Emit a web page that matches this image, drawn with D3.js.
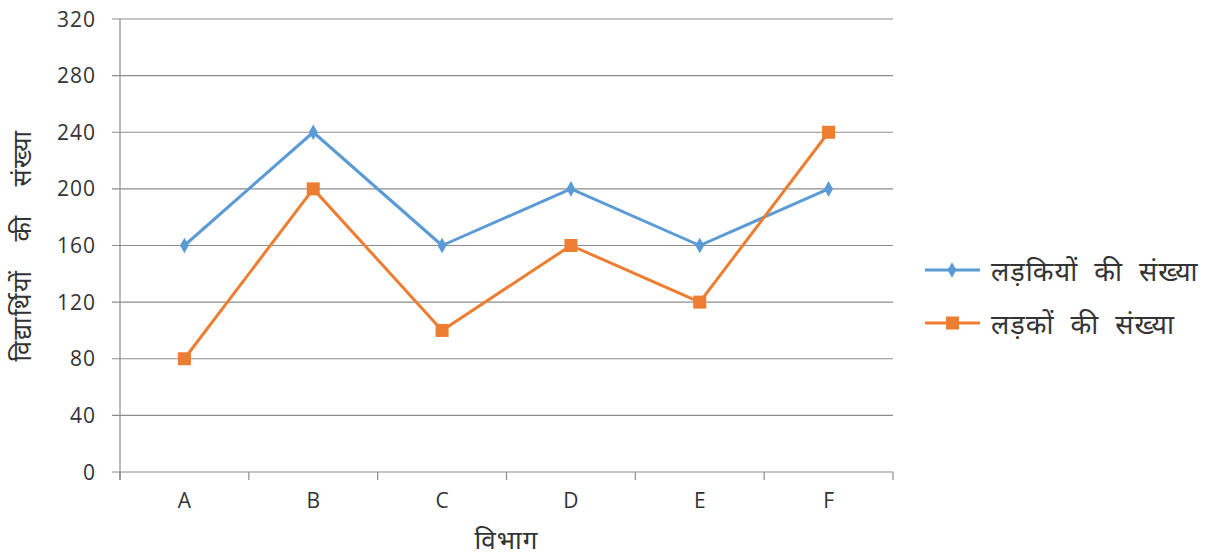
<!DOCTYPE html>
<html>
<head>
<meta charset="utf-8">
<script src="https://cdn.jsdelivr.net/npm/d3@7"></script>
<style>
  body { margin: 0; background: #fff; }
  text { font-family: "Open Sans", "Noto Sans", "DejaVu Sans", sans-serif; fill: #333; }
</style>
</head>
<body>
<svg id="chart"></svg>
<script>
const categories = ["A", "B", "C", "D", "E", "F"];
const girls = [160, 240, 160, 200, 160, 200];
const boys = [80, 200, 100, 160, 120, 240];
const yTicks = [0, 40, 80, 120, 160, 200, 240, 280, 320];
const seriesNames = ["लड़कियों की संख्या", "लड़कों की संख्या"];
const colors = ["#5B9BD5", "#ED7D31"];

const width = 1212, height = 559;
const margin = { left: 120, right: 319, top: 19, bottom: 87 };

const svg = d3.select("#chart").attr("width", width).attr("height", height);

const x = d3.scaleBand().domain(categories).range([margin.left, width - margin.right]);
const y = d3.scaleLinear().domain([0, 320]).range([height - margin.bottom, margin.top]);

// Gridlines
svg.append("g")
   .selectAll("line")
   .data(yTicks)
   .enter()
   .append("line")
   .attr("x1", margin.left - 8)
   .attr("x2", width - margin.right)
   .attr("y1", (d) => y(d))
   .attr("y2", (d) => y(d))
   .attr("stroke", "#8c8c8c")
   .attr("stroke-width", 1.2);

// Y axis line
svg.append("line")
   .attr("x1", margin.left).attr("x2", margin.left)
   .attr("y1", y(320)).attr("y2", y(0) + 8)
   .attr("stroke", "#8c8c8c")
   .attr("stroke-width", 1.2);

// Y tick labels
svg.append("g")
   .selectAll("text")
   .data(yTicks)
   .enter()
   .append("text")
   .attr("x", margin.left - 24)
   .attr("y", (d) => y(d))
   .attr("dy", "0.36em")
   .attr("text-anchor", "end")
   .style("font-size", "21px")
   .style("letter-spacing", "1px")
   .text((d) => d);

// X axis ticks at band boundaries
const bounds = categories.map((c) => x(c)).concat([x(categories[5]) + x.bandwidth()]);
svg.append("g")
   .selectAll("line")
   .data(bounds)
   .enter()
   .append("line")
   .attr("x1", (d) => d).attr("x2", (d) => d)
   .attr("y1", y(0)).attr("y2", y(0) + 8)
   .attr("stroke", "#8c8c8c")
   .attr("stroke-width", 1.2);

// X tick labels
svg.append("g")
   .selectAll("text")
   .data(categories)
   .enter()
   .append("text")
   .attr("x", (d) => x(d) + x.bandwidth() / 2)
   .attr("y", y(0) + 36)
   .attr("text-anchor", "middle")
   .style("font-size", "21px")
   .text((d) => d);

// Axis titles
svg.append("text")
   .attr("x", (margin.left + width - margin.right) / 2)
   .attr("y", 549)
   .attr("text-anchor", "middle")
   .style("font-size", "26px")
   .style("letter-spacing", "1px")
   .text("विभाग");

svg.append("text")
   .attr("transform", `translate(31,${(y(0) + y(320)) / 2}) rotate(-90)`)
   .attr("text-anchor", "middle")
   .style("font-size", "25px")
   .style("word-spacing", "20px")
   .style("letter-spacing", "1.5px")
   .text("विद्यार्थियों की संख्या");

// Lines
const line = d3.line()
   .x((d, i) => x(categories[i]) + x.bandwidth() / 2)
   .y((d) => y(d));

[girls, boys].forEach((vals, s) => {
   svg.append("path")
      .datum(vals)
      .attr("fill", "none")
      .attr("stroke", colors[s])
      .attr("stroke-width", 3)
      .attr("stroke-linejoin", "round")
      .attr("d", line);
});

// Markers
const diamond = d3.symbol().type(d3.symbolDiamond).size(70);
svg.append("g")
   .selectAll("path")
   .data(girls)
   .enter()
   .append("path")
   .attr("d", diamond)
   .attr("transform", (d, i) => `translate(${x(categories[i]) + x.bandwidth() / 2},${y(d)})`)
   .attr("fill", colors[0]);

svg.append("g")
   .selectAll("rect")
   .data(boys)
   .enter()
   .append("rect")
   .attr("x", (d, i) => x(categories[i]) + x.bandwidth() / 2 - 6.5)
   .attr("y", (d) => y(d) - 6.5)
   .attr("width", 13)
   .attr("height", 13)
   .attr("fill", colors[1]);

// Legend
const legend = svg.append("g").attr("transform", "translate(925,270)");
seriesNames.forEach((name, i) => {
   const row = legend.append("g").attr("transform", `translate(0,${i * 53})`);
   row.append("line")
      .attr("x1", 0).attr("x2", 55)
      .attr("stroke", colors[i])
      .attr("stroke-width", 3);
   if (i === 0) {
      row.append("path").attr("d", diamond).attr("transform", "translate(27,0)").attr("fill", colors[0]);
   } else {
      row.append("rect").attr("x", 21).attr("y", -6.5).attr("width", 13).attr("height", 13).attr("fill", colors[1]);
   }
   row.append("text")
      .attr("x", 66)
      .attr("dy", "0.42em")
      .style("font-size", "27px")
      .style("word-spacing", "8px")
      .style("letter-spacing", "1px")
      .text(name);
});
</script>
</body>
</html>
